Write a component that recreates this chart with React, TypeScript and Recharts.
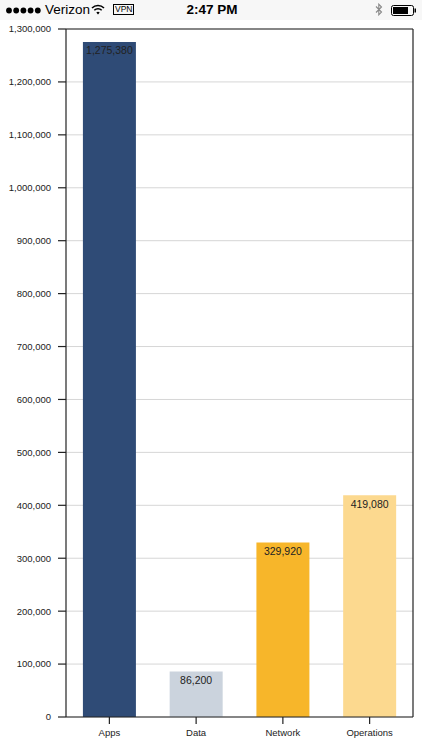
import React from "react";
import {
  BarChart,
  Bar,
  XAxis,
  YAxis,
  CartesianGrid,
  Cell,
  LabelList,
  ReferenceLine,
} from "recharts";

const categories = ["Apps", "Data", "Network", "Operations"];
const values = [1275380, 86200, 329920, 419080];
const barColors = ["#2f4b76", "#cbd3dd", "#f7b62a", "#fcd98f"];
const yTicks = [0, 100000, 200000, 300000, 400000, 500000, 600000, 700000, 800000, 900000, 1000000, 1100000, 1200000, 1300000];

const data = categories.map((name, i) => ({ name, value: values[i] }));

const fmt = (v: number) => v.toLocaleString("en-US");
const FONT = "'Liberation Sans', Arial, Helvetica, sans-serif";

function StatusBar() {
  return (
    <div
      style={{
        position: "absolute",
        left: 0,
        top: 0,
        width: 422,
        height: 20,
        background: "#f7f7f7",
        fontFamily: FONT,
        color: "#000",
      }}
    >
      <svg style={{ position: "absolute", left: 6, top: 7 }} width="37" height="7" viewBox="0 0 37 7">
        {[0, 1, 2, 3, 4].map((i) => (
          <circle key={i} cx={3 + i * 7.2} cy={3.5} r={2.9} fill="#000" />
        ))}
      </svg>
      <span style={{ position: "absolute", left: 45, top: 2, fontSize: 13.5 }}>Verizon</span>
      <svg style={{ position: "absolute", left: 91, top: 4 }} width="14" height="11" viewBox="0 0 14 11">
        <path d="M1 4 A8.5 8.5 0 0 1 13 4" stroke="#000" strokeWidth="1.6" fill="none" />
        <path d="M3.3 6.3 A5.3 5.3 0 0 1 10.7 6.3" stroke="#000" strokeWidth="1.6" fill="none" />
        <path d="M5.3 8.6 L7 10.4 L8.7 8.6 A2.4 2.4 0 0 0 5.3 8.6 Z" fill="#000" />
      </svg>
      <span
        style={{
          position: "absolute",
          left: 113,
          top: 4,
          fontSize: 8.5,
          lineHeight: "9px",
          border: "1px solid #000",
          padding: "0 1px",
        }}
      >
        VPN
      </span>
      <span style={{ position: "absolute", left: 0, width: 424, textAlign: "center", top: 2, fontSize: 13.5, fontWeight: 700 }}>
        2:47 PM
      </span>
      <svg style={{ position: "absolute", left: 375, top: 3 }} width="8" height="13" viewBox="0 0 8 13">
        <path d="M1 3.5 L6.5 9 L3.8 11.8 L3.8 1.2 L6.5 4 L1 9.5" stroke="#888" strokeWidth="1.1" fill="none" />
      </svg>
      <svg style={{ position: "absolute", left: 391, top: 5 }} width="26" height="11" viewBox="0 0 26 11">
        <rect x="0.5" y="0.5" width="22" height="10" rx="2" stroke="#000" strokeWidth="1" fill="none" />
        <rect x="2" y="2" width="15" height="7" fill="#000" />
        <rect x="23.5" y="3.5" width="1.5" height="4" fill="#000" />
      </svg>
    </div>
  );
}

export default function App() {
  return (
    <div style={{ position: "absolute", left: 0, top: 0, width: 422, height: 750, background: "#fff" }}>
      <StatusBar />
      <div style={{ position: "absolute", left: 0, top: 0 }}>
        <BarChart
          width={422}
          height={750}
          data={data}
          margin={{ top: 29, right: 9, left: 0, bottom: 0 }}
          barCategoryGap="19.5%"
        >
          <CartesianGrid horizontal vertical={false} stroke="#d6d6d6" strokeWidth={1} />
          <CartesianGrid horizontal={false} vertical verticalPoints={[413]} stroke="#222" strokeWidth={1.2} />
          <XAxis
            dataKey="name"
            height={33}
            tickSize={7}
            tickMargin={5}
            tick={{ fontSize: 9.5, fill: "#222", fontFamily: FONT }}
            axisLine={{ stroke: "#222", strokeWidth: 1.2 }}
            tickLine={{ stroke: "#222", strokeWidth: 1.2 }}
            interval={0}
          />
          <YAxis
            width={66}
            domain={[0, 1300000]}
            ticks={yTicks}
            tickFormatter={fmt}
            tickSize={8}
            tickMargin={7}
            tick={{ fontSize: 9.5, fill: "#222", fontFamily: FONT }}
            axisLine={{ stroke: "#222", strokeWidth: 1.2 }}
            tickLine={{ stroke: "#222", strokeWidth: 1.2 }}
            interval={0}
            allowDataOverflow
          />
          <ReferenceLine y={1300000} stroke="#222" strokeWidth={1.2} />
          <Bar dataKey="value" isAnimationActive={false}>
            {data.map((d, i) => (
              <Cell key={d.name} fill={barColors[i]} />
            ))}
            <LabelList
              dataKey="value"
              position="insideTop"
              offset={5}
              formatter={(v: number) => fmt(v)}
              style={{ fontSize: 10.5, fill: "#222", fontFamily: FONT }}
            />
          </Bar>
        </BarChart>
      </div>
    </div>
  );
}
